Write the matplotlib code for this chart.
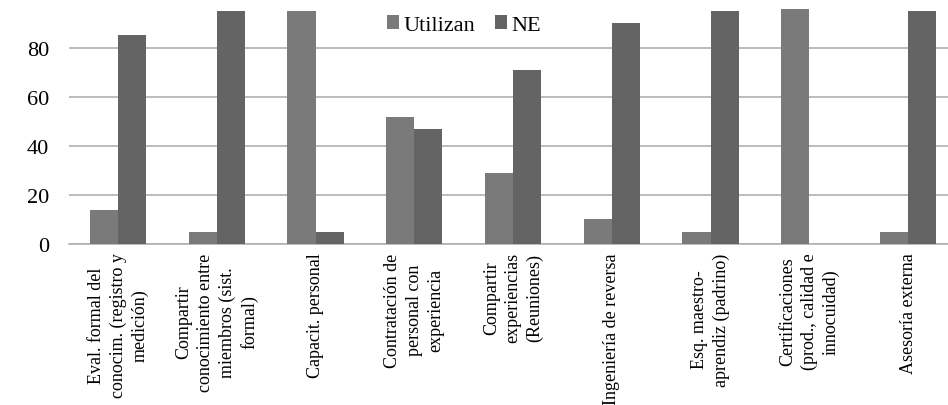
import matplotlib
matplotlib.use("Agg")
import matplotlib.pyplot as plt
import numpy as np

categories = [
    "Eval. formal del\nconocim. (registro y\nmedición)",
    "Compartir\nconocimiento entre\nmiembros (sist.\nformal)",
    "Capacit. personal",
    "Contratación de\npersonal con\nexperiencia",
    "Compartir\nexperiencias\n(Reuniones)",
    "Ingeniería de reversa",
    "Esq. maestro-\naprendiz (padrino)",
    "Certificaciones\n(prod., calidad e\ninnocuidad)",
    "Asesoría externa",
]
utilizan = [14, 5, 95, 52, 29, 10, 5, 96, 5]
ne = [85.5, 95, 5, 47, 71, 90, 95, 0, 95]
yticks = [0, 20, 40, 60, 80]

plt.rcParams['font.family'] = ['Liberation Serif', 'DejaVu Serif']

fig = plt.figure(figsize=(9.48, 4.06), dpi=100)
ax = fig.add_axes([0.0724, 0.3966, 0.9375, 0.6034])

x = np.arange(len(categories))
w = 0.285
ax.bar(x - w/2, utilizan, w, color="#7a7a7a", label="Utilizan", zorder=3)
ax.bar(x + w/2, ne, w, color="#646464", label="NE", zorder=3)

ax.set_xlim(-0.5, len(categories) - 0.5)
ax.set_ylim(0, 100)
ax.set_yticks(yticks)
ax.set_yticklabels([str(v) for v in yticks], fontsize=16)
ax.set_xticks(x)
ax.set_xticklabels(categories, rotation=90, fontsize=13, multialignment="center",
                   linespacing=1.35)
ax.tick_params(axis="x", length=0, pad=6)
ax.tick_params(axis="y", length=0, pad=14)
ax.grid(axis="y", color="#b0b0b0", linewidth=1.2, zorder=0)
for s in ["top", "right", "left"]:
    ax.spines[s].set_visible(False)
ax.spines["bottom"].set_color("#b0b0b0")
ax.spines["bottom"].set_linewidth(1.2)

fig.legend(loc="center", bbox_to_anchor=(464/948, 1 - 26/406), ncol=2, frameon=False,
           fontsize=16, handlelength=0.55, handleheight=0.55, handletextpad=0.2,
           columnspacing=0.9, borderpad=0)

fig.savefig("out.png", dpi=100)
